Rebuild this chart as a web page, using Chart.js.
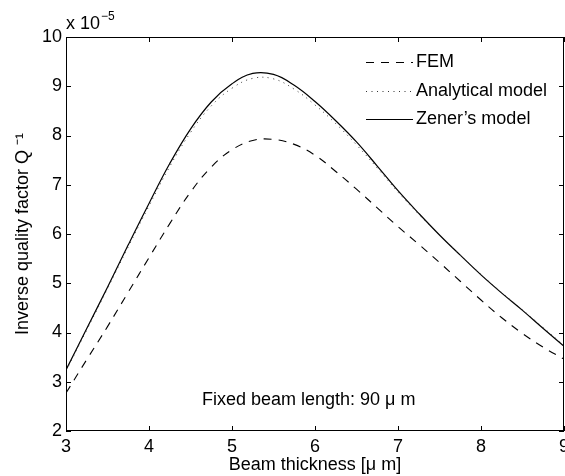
<!DOCTYPE html>
<html>
<head>
<meta charset="utf-8">
<script src="https://cdn.jsdelivr.net/npm/chart.js@4.4.1/dist/chart.umd.min.js"></script>
<style>
  body { margin: 0; background: #fff; }
  canvas { display: block; }
</style>
</head>
<body>
<canvas id="graficoQ" width="565" height="476"></canvas>
<script>
// beam thickness [um]
const espesor = [3, 3.25, 3.5, 3.75, 4, 4.25, 4.5, 4.75, 5, 5.25, 5.5, 5.75,
    6, 6.25, 6.5, 6.75, 7, 7.25, 7.5, 7.75, 8, 8.25, 8.5, 8.75, 9];

// Q^-1 values, in units of 1e-5
const valoresFEM = [2.77, 3.45, 4.12, 4.82, 5.52, 6.21, 6.85, 7.36, 7.71, 7.90, 7.92, 7.82,
    7.60, 7.27, 6.91, 6.53, 6.15, 5.79, 5.42, 5.04, 4.66, 4.30, 3.98, 3.70, 3.46];
const valoresAnalitico = [3.22, 4.05, 4.89, 5.74, 6.57, 7.37, 8.06, 8.60, 8.96, 9.16, 9.15, 8.94,
    8.62, 8.24, 7.81, 7.34, 6.85, 6.40, 5.98, 5.57, 5.18, 4.81, 4.46, 4.10, 3.74];
const valoresZener = [3.24, 4.08, 4.92, 5.78, 6.62, 7.43, 8.13, 8.68, 9.05, 9.26, 9.24, 9.02,
    8.69, 8.30, 7.87, 7.38, 6.88, 6.42, 5.98, 5.57, 5.17, 4.80, 4.45, 4.08, 3.72];

const nombres = ["FEM", "Analytical model", "Zener\u2019s model"];
const textoNota = "Fixed beam length: 90 \u03bc m";

const fuente = "'Liberation Sans', Arial, Helvetica, sans-serif";
Chart.defaults.font.family = fuente;
Chart.defaults.font.size = 18;
Chart.defaults.color = "#000";

const puntos = (vals) => espesor.map((t, i) => ({ x: t, y: vals[i] }));

// box, inward ticks, exponent label, note and legend (matlab style)
const decoracion = {
    id: "decoracion",
    afterDraw(chart) {
        const { ctx, chartArea: a, scales } = chart;
        const x = scales.x, y = scales.y;
        ctx.save();
        ctx.strokeStyle = "#000";
        ctx.lineWidth = 1;
        ctx.setLineDash([]);
        ctx.strokeRect(a.left + 0.5, a.top + 0.5, a.right - a.left - 1, a.bottom - a.top - 1);

        const largo = 5;
        ctx.beginPath();
        x.ticks.forEach((t) => {
            const px = Math.round(x.getPixelForValue(t.value)) + 0.5;
            ctx.moveTo(px, a.bottom);
            ctx.lineTo(px, a.bottom - largo);
            ctx.moveTo(px, a.top);
            ctx.lineTo(px, a.top + largo);
        });
        y.ticks.forEach((t) => {
            const py = Math.round(y.getPixelForValue(t.value)) + 0.5;
            ctx.moveTo(a.left, py);
            ctx.lineTo(a.left + largo, py);
            ctx.moveTo(a.right, py);
            ctx.lineTo(a.right - largo, py);
        });
        ctx.stroke();

        ctx.fillStyle = "#000";
        ctx.textBaseline = "alphabetic";
        ctx.textAlign = "left";
        ctx.font = "18px " + fuente;
        ctx.fillText("x 10", a.left, 29);
        const w = ctx.measureText("x 10").width;
        ctx.font = "12px " + fuente;
        ctx.fillText("\u22125", a.left + w + 1, 20);

        ctx.font = "18px " + fuente;
        ctx.fillText(textoNota, 202, 405);

        // legend
        const filas = [62, 91, 119];
        chart.data.datasets.forEach((ds, i) => {
            const fy = filas[i] + 0.5;
            ctx.beginPath();
            ctx.setLineDash(ds.borderDash || []);
            ctx.lineWidth = ds.borderWidth;
            ctx.strokeStyle = ds.borderColor;
            ctx.moveTo(366, fy);
            ctx.lineTo(413, fy);
            ctx.stroke();
            ctx.setLineDash([]);
            ctx.textBaseline = "middle";
            ctx.fillText(ds.label, 416, fy);
        });
        ctx.restore();
    },
};

const dataGraficoQ = {
    datasets: [
        {
            label: nombres[0],
            data: puntos(valoresFEM),
            borderColor: "#000",
            borderWidth: 1.1,
            borderDash: [8, 7],
        },
        {
            label: nombres[1],
            data: puntos(valoresAnalitico),
            borderColor: "#333",
            borderWidth: 1,
            borderDash: [1, 4.5],
        },
        {
            label: nombres[2],
            data: puntos(valoresZener),
            borderColor: "#000",
            borderWidth: 1.2,
        },
    ],
};

const configGraficoQ = {
    type: "line",
    data: dataGraficoQ,
    plugins: [decoracion],
    options: {
        responsive: false,
        animation: false,
        devicePixelRatio: 1,
        layout: { padding: { left: 0, right: 1, top: 37, bottom: 0 } },
        elements: {
            point: { radius: 0 },
            line: { tension: 0.4, fill: false },
        },
        plugins: {
            legend: { display: false },
            tooltip: { enabled: false },
        },
        scales: {
            x: {
                type: "linear",
                min: 3,
                max: 9,
                grid: { display: false, drawTicks: false },
                border: { display: false },
                ticks: { stepSize: 1, padding: 5, autoSkip: false, maxRotation: 0 },
                title: {
                    display: true,
                    text: "Beam thickness [\u03bc m]",
                    padding: { top: 0, bottom: 0 },
                },
                afterFit: (escala) => {
                    escala.height = 45;
                    escala.paddingLeft = 0;
                    escala.paddingRight = 0;
                },
            },
            y: {
                min: 2,
                max: 10,
                grid: { display: false, drawTicks: false },
                border: { display: false },
                ticks: { stepSize: 1, padding: 4 },
                title: {
                    display: true,
                    text: "Inverse quality factor Q \u207b\u00b9",
                    padding: { top: 12, bottom: 0 },
                },
                afterFit: (escala) => {
                    escala.width = 66;
                    escala.paddingTop = 0;
                    escala.paddingBottom = 0;
                },
            },
        },
    },
};

const chartQ = new Chart(document.getElementById("graficoQ"), configGraficoQ);
</script>
</body>
</html>
